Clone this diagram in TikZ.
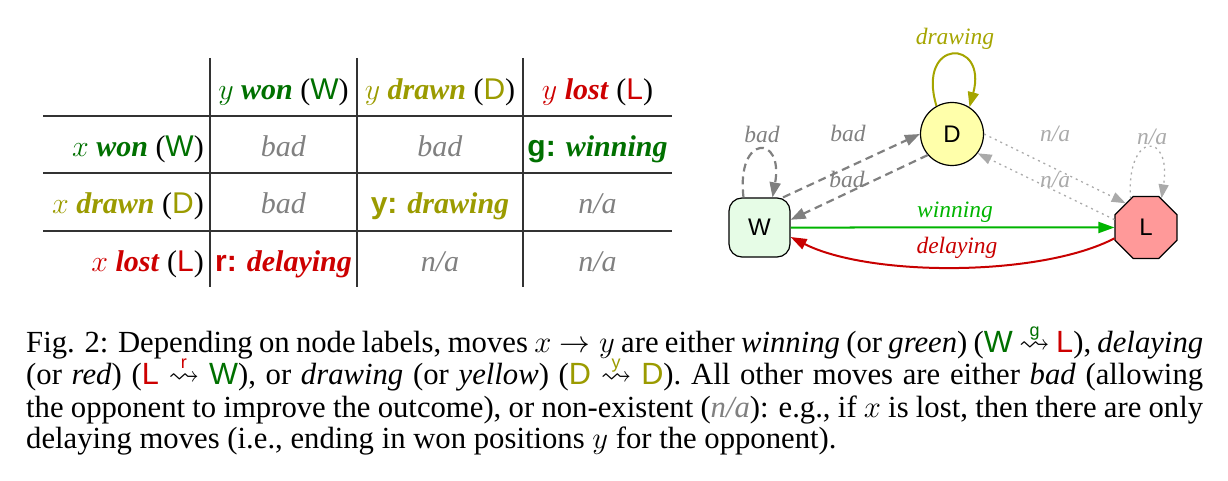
\RequirePackage{fix-cm}
\documentclass[tikz,border=0pt]{standalone}
\usepackage{fontspec}
\setmainfont{Liberation Serif}
\setsansfont{Liberation Sans}
\usepackage{amssymb}
\usetikzlibrary{arrows.meta,shapes.geometric}
\definecolor{tgreen}{RGB}{0,112,0}
\definecolor{tolive}{RGB}{155,155,0}
\definecolor{tred}{RGB}{205,0,0}
\definecolor{tgray}{RGB}{128,128,128}
\definecolor{lgray}{RGB}{170,170,170}
\definecolor{egreen}{RGB}{0,180,0}
\definecolor{ered}{RGB}{200,0,0}
\definecolor{eolive}{RGB}{165,165,0}
\definecolor{wfill}{RGB}{230,252,230}
\definecolor{dfill}{RGB}{255,255,170}
\definecolor{lfill}{RGB}{255,153,153}
\newcommand\tabfnt{\fontsize{30}{32}\selectfont}
\newcommand\capfnt{\fontsize{30.7}{32}\selectfont}
\newcommand\sqarr[2]{{\ooalign{$\rightsquigarrow$\cr\hidewidth\raisebox{16pt}{\fontsize{18}{18}\selectfont\sffamily\color{#1}#2}\hidewidth\cr}}}
\tikzset{
  cell/.style={anchor=base, inner sep=0pt, font=\tabfnt},
  rowlab/.style={anchor=base east, inner sep=0pt, font=\tabfnt},
  capline/.style={anchor=base west, inner sep=0pt, font=\capfnt},
  gnode/.style={draw=black, line width=1.2pt, font=\fontsize{24}{26}\selectfont\sffamily, inner sep=0pt},
  elab/.style={anchor=base, font=\fontsize{23.5}{25}\selectfont\itshape, inner sep=0pt},
  badedge/.style={draw=tgray, line width=2.2pt, dash pattern=on 8pt off 5pt, -{Triangle[length=15pt,width=11pt,fill=tgray]}},
  naedge/.style={draw=lgray, line width=1.3pt, dash pattern=on 2pt off 4pt, -{Triangle[length=14pt,width=10pt,fill=lgray]}},
  tline/.style={draw=black!80, line width=1.2pt},
}
\begin{document}
\begin{tikzpicture}[x=1pt,y=1pt]
\useasboundingbox (0,0) rectangle (1228,-481);
% ---------- table ----------
\draw[tline] (43,-116) -- (672,-116);
\draw[tline] (43,-173) -- (672,-173);
\draw[tline] (43,-231) -- (672,-231);
\draw[tline] (210,-58) -- (210,-287);
\draw[tline] (357,-58) -- (357,-287);
\draw[tline] (523,-58) -- (523,-287);
% header
\node[cell] (h1) at (283.5,-100) {\color{tgreen}$y$ \textbf{\textit{won}} {\color{black}(}{\sffamily W}{\color{black})}};
\node[cell] (h2) at (440,-100) {\color{tolive}$y$ \textbf{\textit{drawn}} {\color{black}(}{\sffamily D}{\color{black})}};
\node[cell] (h3) at (597.5,-100) {\color{tred}$y$ \textbf{\textit{lost}} {\color{black}(}{\sffamily L}{\color{black})}};
% row labels
\node[rowlab] (r1) at (204,-157) {\color{tgreen}$x$ \textbf{\textit{won}} {\color{black}(}{\sffamily W}{\color{black})}};
\node[rowlab] (r2) at (204,-214) {\color{tolive}$x$ \textbf{\textit{drawn}} {\color{black}(}{\sffamily D}{\color{black})}};
\node[rowlab] (r3) at (204,-271) {\color{tred}$x$ \textbf{\textit{lost}} {\color{black}(}{\sffamily L}{\color{black})}};
% cells
\node[cell,text=tgray] (c11) at (283.5,-157) {\textit{bad}};
\node[cell,text=tgray] (c12) at (440,-157) {\textit{bad}};
\node[cell,text=tgreen] (c13) at (597.5,-157) {{\sffamily\bfseries g:} \textbf{\textit{winning}}};
\node[cell,text=tgray] (c21) at (283.5,-214) {\textit{bad}};
\node[cell,text=tolive] (c22) at (440,-214) {{\sffamily\bfseries y:} \textbf{\textit{drawing}}};
\node[cell,text=tgray] (c23) at (597.5,-214) {\textit{n/a}};
\node[cell,text=tred] (c31) at (283.5,-271) {{\sffamily\bfseries r:} \textbf{\textit{delaying}}};
\node[cell,text=tgray] (c32) at (440,-271) {\textit{n/a}};
\node[cell,text=tgray] (c33) at (597.5,-271) {\textit{n/a}};
% ---------- graph ----------
\node[gnode, rectangle, rounded corners=13pt, fill=wfill, minimum width=61pt, minimum height=59pt] (W) at (759.5,-227.5) {W};
\node[gnode, circle, fill=dfill, minimum size=63pt] (D) at (952,-134) {D};
\node[gnode, regular polygon, regular polygon sides=8, fill=lfill, minimum size=67pt] (L) at (1146,-227.5) {L};
% winning / delaying
\draw[draw=egreen, line width=2pt, -{Triangle[length=16pt,width=11pt,fill=egreen]}] (W.0) -- (L.180);
\draw[draw=ered, line width=2pt, -{Triangle[length=16pt,width=11pt,fill=ered]}] (L.199) .. controls (1040,-277) and (870,-277) .. (W.-17);
% drawing loop
\draw[draw=eolive, line width=2pt, -{Triangle[length=15pt,width=11pt,fill=eolive]}] (D.119) .. controls (916,-38) and (988,-38) .. (D.57);
% bad edges
\draw[badedge] ([xshift=-16pt]W.north) .. controls (736,-134) and (784,-134) .. ([xshift=13pt]W.north);
\draw[badedge] (W.52) -- (D.180);
\draw[badedge] (D.221) -- (W.14);
% n/a edges
\draw[naedge] (D.0) -- (L.130);
\draw[naedge] (L.166) -- (D.323);
\draw[naedge] (L.118) .. controls (1126,-131) and (1172,-131) .. (L.62);
% edge labels
\node[elab, text=egreen] (lw) at (955,-217) {winning};
\node[elab, text=ered] (ld) at (957,-253) {delaying};
\node[elab, text=eolive] (ldr) at (955,-45) {drawing};
\node[elab, text=tgray] (lb1) at (762,-143) {bad};
\node[elab, text=tgray] (lb2) at (848,-141.5) {bad};
\node[elab, text=tgray] (lb3) at (847,-188) {bad};
\node[elab, text=lgray] (ln1) at (1055,-141.5) {n/a};
\node[elab, text=lgray] (ln2) at (1055,-188) {n/a};
\node[elab, text=lgray] (ln3) at (1152,-145) {n/a};
% ---------- caption ----------
\node[capline] (cap1) at (26,-352) {\makebox[1177pt][s]{Fig. 2: Depending on node labels, moves $x\rightarrow y$ are either \textit{winning} (or \textit{green}) ({\sffamily\color{tgreen}W} \sqarr{tgreen}{g} {\sffamily\color{tred}L}), \textit{delaying}}};
\node[capline] (cap2) at (26,-384) {\makebox[1177pt][s]{(or \textit{red}) ({\sffamily\color{tred}L} \sqarr{tred}{r} {\sffamily\color{tgreen}W}), or \textit{drawing} (or \textit{yellow}) ({\sffamily\color{tolive}D} \sqarr{tolive}{y} {\sffamily\color{tolive}D}). All other moves are either \textit{bad} (allowing}};
\node[capline] (cap3) at (26,-417) {\makebox[1177pt][s]{the opponent to improve the outcome), or non-existent ({\color{tgray}\textit{n/a}}): e.g., if $x$ is lost, then there are only}};
\node[capline] (cap4) at (26,-448) {delaying moves (i.e., ending in won positions $y$ for the opponent).};
\end{tikzpicture}
\end{document}
